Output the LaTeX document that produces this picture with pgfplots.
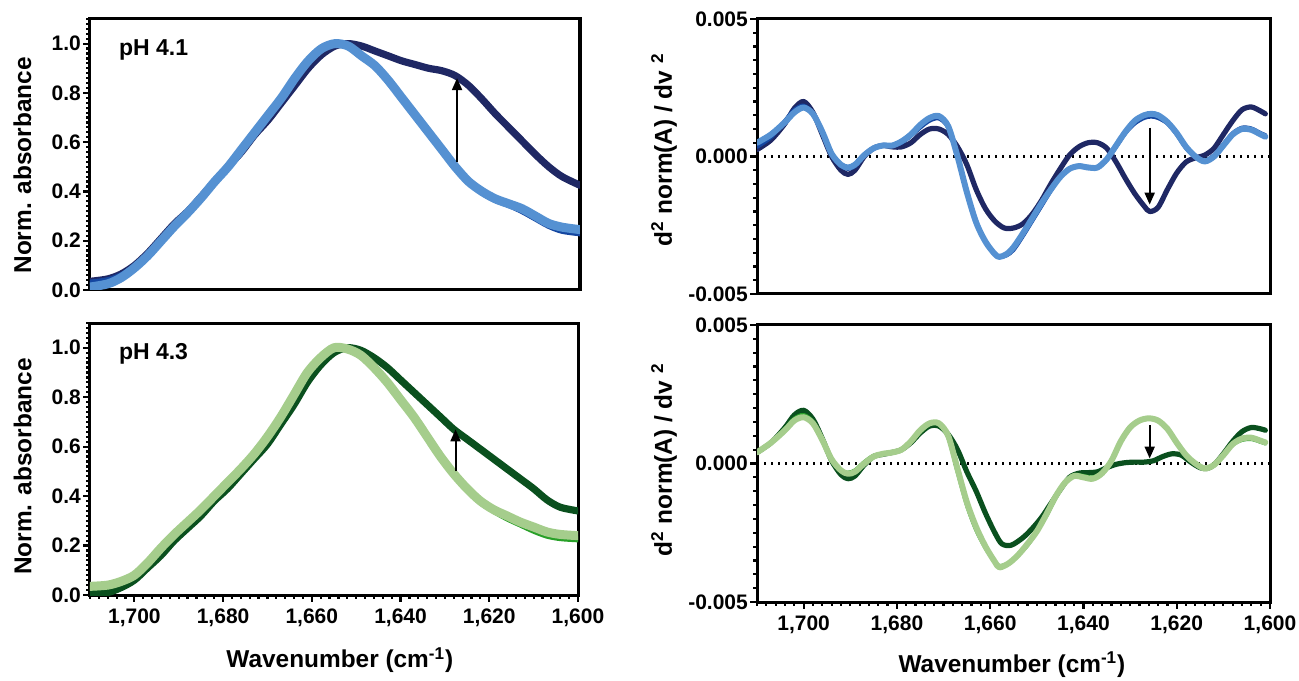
\documentclass[border=0pt]{standalone}
\usepackage{pgfplots}
\pgfplotsset{compat=1.18}
\usepackage{fontspec}
\setmainfont{Liberation Sans}
\usetikzlibrary{arrows.meta}

\definecolor{navy}{RGB}{31,40,100}
\definecolor{midblue}{RGB}{20,70,160}
\definecolor{lightblue}{RGB}{85,145,210}
\definecolor{darkgreen}{RGB}{10,80,30}
\definecolor{midgreen}{RGB}{40,160,40}
\definecolor{lightgreen}{RGB}{165,205,140}

\tikzset{
  zeroline/.style={black, line width=1.1pt, dash pattern=on 1.1pt off 2.4pt},
  shift arrow/.style={black, line width=1pt, -{Triangle[length=6pt,width=5pt]}},
}

\pgfplotsset{
  spec/.style={
    scale only axis, anchor=south west,
    xmin=1600, xmax=1710, x dir=reverse,
    axis line style={line width=1.5pt},
    tick align=outside, tick pos=left,
    every tick/.style={black, line width=1.1pt},
    major tick length=3.4pt, minor tick length=1.8pt,
    /pgf/number format/assume math mode=true,
    ticklabel style={font=\fontsize{10.5}{12}\selectfont\bfseries},
    yticklabel style={inner sep=1pt},
    label style={font=\fontsize{12.2}{14}\selectfont\bfseries},
    every axis plot/.append style={smooth, line join=round, line cap=round},
  },
  withx/.style={
    xtick={1600,1620,1640,1660,1680,1700,1720},
    xticklabels={{1,600},{1,620},{1,640},{1,660},{1,680},{1,700},{}},
    minor x tick num=9,
    xlabel={Wavenumber (cm\textsuperscript{-1})},
  },
  nox/.style={xtick=\empty},
  absy/.style={
    ymin=0, ymax=1.1,
    ytick={0,0.2,0.4,0.6,0.8,1.0,1.2},
    yticklabels={0.0,0.2,0.4,0.6,0.8,1.0,{}},
    minor y tick num=9,
    ylabel={Norm. absorbance},
  },
  dery/.style={
    ymin=-0.005, ymax=0.005, scaled y ticks=false,
    ytick={-0.005,0,0.005},
    yticklabels={-0.005,0.000,0.005},
    minor y tick num=9,
    ylabel={d\textsuperscript{2} norm(A) / dv \textsuperscript{2}},
  },
}

\begin{document}
\begin{tikzpicture}
\path[use as bounding box] (0,0) rectangle (649.5pt,340pt);

% ---- top left: absorbance pH 4.1
\begin{axis}[spec, nox, absy, at={(45pt,195pt)}, width=245pt, height=135.5pt,
  ylabel style={at={(axis description cs:-0.12,0.46)}, anchor=base}]
\addplot[navy, line width=3.6pt] table {
1710 0.035
1706 0.045
1703 0.065
1700 0.10
1697 0.15
1694 0.21
1691 0.27
1688 0.32
1685 0.38
1682 0.44
1679 0.50
1676 0.56
1673 0.63
1670 0.69
1667 0.76
1664 0.83
1661 0.90
1658 0.955
1655 0.99
1652 1.0
1649 0.99
1646 0.97
1643 0.95
1640 0.93
1637 0.915
1634 0.90
1631 0.89
1628 0.87
1625 0.83
1622 0.775
1619 0.715
1616 0.66
1613 0.605
1610 0.55
1607 0.50
1604 0.46
1600 0.425
};
\addplot[midblue, line width=3pt] table {
1710 0.03
1706 0.04
1703 0.06
1700 0.095
1697 0.14
1694 0.20
1691 0.26
1688 0.315
1685 0.375
1682 0.44
1679 0.50
1676 0.57
1673 0.64
1670 0.71
1667 0.78
1664 0.86
1661 0.93
1658 0.98
1655 1.0
1652 0.99
1649 0.95
1646 0.91
1643 0.85
1640 0.78
1637 0.71
1634 0.64
1631 0.57
1628 0.50
1625 0.44
1622 0.395
1619 0.365
1616 0.345
1613 0.32
1610 0.29
1607 0.26
1604 0.24
1600 0.23
};
\addplot[lightblue, line width=4.5pt] table {
1710 0.012
1706 0.025
1703 0.05
1700 0.09
1697 0.14
1694 0.20
1691 0.26
1688 0.315
1685 0.375
1682 0.44
1679 0.50
1676 0.57
1673 0.64
1670 0.71
1667 0.78
1664 0.86
1661 0.93
1658 0.98
1655 1.0
1652 0.99
1649 0.95
1646 0.91
1643 0.85
1640 0.78
1637 0.71
1634 0.64
1631 0.57
1628 0.50
1625 0.44
1622 0.40
1619 0.37
1616 0.35
1613 0.33
1610 0.30
1607 0.27
1604 0.255
1600 0.245
};
\node[anchor=west, font=\fontsize{11.5}{13}\selectfont\bfseries] at (axis description cs:0.045,0.886) {pH 4.1};
\draw[shift arrow] (axis cs:1627.6,0.52) -- (axis cs:1627.6,0.86);
\end{axis}

% ---- bottom left: absorbance pH 4.3
\begin{axis}[spec, withx, absy, at={(45pt,42.5pt)}, width=244pt, height=136pt,
  ylabel style={at={(axis description cs:-0.12,0.472)}, anchor=base},
  xlabel style={at={(axis description cs:0.512,-0.268)}, anchor=base}]
\addplot[darkgreen, line width=3.6pt] table {
1710 0.005
1706 0.01
1703 0.03
1700 0.06
1697 0.11
1694 0.16
1691 0.22
1688 0.27
1685 0.32
1682 0.38
1679 0.43
1676 0.49
1673 0.55
1670 0.61
1667 0.69
1664 0.77
1661 0.86
1658 0.93
1655 0.98
1652 1.0
1649 0.99
1646 0.96
1643 0.92
1640 0.87
1637 0.82
1634 0.77
1631 0.72
1628 0.67
1625 0.63
1622 0.59
1619 0.55
1616 0.51
1613 0.47
1610 0.43
1607 0.385
1604 0.355
1600 0.34
};
\addplot[midgreen, line width=3pt] table {
1710 0.03
1706 0.035
1703 0.05
1700 0.075
1697 0.125
1694 0.185
1691 0.24
1688 0.29
1685 0.34
1682 0.395
1679 0.45
1676 0.505
1673 0.565
1670 0.635
1667 0.715
1664 0.805
1661 0.895
1658 0.96
1655 1.0
1652 0.995
1649 0.97
1646 0.92
1643 0.86
1640 0.79
1637 0.72
1634 0.64
1631 0.56
1628 0.49
1625 0.43
1622 0.375
1619 0.34
1616 0.31
1613 0.285
1610 0.26
1607 0.24
1604 0.23
1600 0.225
};
\addplot[lightgreen, line width=4.5pt] table {
1710 0.035
1706 0.04
1703 0.055
1700 0.08
1697 0.13
1694 0.19
1691 0.245
1688 0.295
1685 0.345
1682 0.40
1679 0.455
1676 0.51
1673 0.57
1670 0.64
1667 0.72
1664 0.81
1661 0.90
1658 0.96
1655 1.0
1652 0.995
1649 0.97
1646 0.92
1643 0.86
1640 0.79
1637 0.72
1634 0.64
1631 0.56
1628 0.49
1625 0.43
1622 0.38
1619 0.345
1616 0.32
1613 0.295
1610 0.275
1607 0.255
1604 0.245
1600 0.24
};
\node[anchor=west, font=\fontsize{11.5}{13}\selectfont\bfseries] at (axis description cs:0.045,0.886) {pH 4.3};
\draw[shift arrow] (axis cs:1627.6,0.50) -- (axis cs:1627.6,0.67);
\end{axis}

% ---- top right: second derivative pH 4.1
\begin{axis}[spec, nox, dery, at={(378.5pt,193pt)}, width=256.5pt, height=137.5pt,
  ylabel style={at={(axis description cs:-0.166,0.524)}, anchor=base}]
\draw[zeroline] (axis cs:1710,0) -- (axis cs:1600,0);
\addplot[navy, line width=2.6pt] table {
1710 0.25e-3
1707 0.6e-3
1704 1.2e-3
1702 1.75e-3
1700 2.0e-3
1698 1.6e-3
1696 0.8e-3
1694 0.0
1692 -0.5e-3
1690.5 -0.65e-3
1689 -0.5e-3
1687 0.0
1685 0.3e-3
1683 0.4e-3
1681 0.35e-3
1679 0.35e-3
1677 0.5e-3
1675 0.8e-3
1673 1.0e-3
1671 1.0e-3
1669 0.8e-3
1667 0.35e-3
1665 -0.3e-3
1663 -1.2e-3
1661 -1.9e-3
1659 -2.35e-3
1657 -2.6e-3
1655 -2.6e-3
1653 -2.45e-3
1651 -2.1e-3
1649 -1.6e-3
1647 -1.0e-3
1645 -0.45e-3
1643 0.05e-3
1641 0.35e-3
1639 0.5e-3
1637 0.5e-3
1635 0.3e-3
1633 -0.2e-3
1631 -0.8e-3
1629 -1.35e-3
1627 -1.8e-3
1625.8 -2.0e-3
1624 -1.85e-3
1622 -1.2e-3
1620 -0.6e-3
1618 -0.2e-3
1616 -0.05e-3
1614 0.05e-3
1612 0.3e-3
1610 0.8e-3
1608 1.3e-3
1606 1.7e-3
1604 1.8e-3
1602 1.65e-3
1601 1.55e-3
};
\addplot[midblue, line width=2pt] table {
1710 0.35e-3
1707 0.7e-3
1704 1.3e-3
1702 1.7e-3
1700 1.85e-3
1698 1.55e-3
1696 0.85e-3
1694 0.05e-3
1692 -0.35e-3
1690.5 -0.45e-3
1689 -0.35e-3
1687 0.05e-3
1685 0.3e-3
1683 0.4e-3
1681 0.38e-3
1679 0.5e-3
1677 0.75e-3
1675 1.05e-3
1673 1.3e-3
1671 1.38e-3
1669 1.05e-3
1667 0.0
1665 -1.3e-3
1663 -2.4e-3
1661 -3.1e-3
1659 -3.55e-3
1658 -3.65e-3
1656.5 -3.6e-3
1655 -3.4e-3
1653 -2.9e-3
1651 -2.35e-3
1649 -1.8e-3
1647 -1.25e-3
1645 -0.75e-3
1643 -0.45e-3
1641 -0.35e-3
1639 -0.38e-3
1637 -0.38e-3
1635 -0.1e-3
1633 0.35e-3
1631 0.85e-3
1629 1.2e-3
1627 1.4e-3
1625.5 1.45e-3
1624 1.4e-3
1622 1.2e-3
1620 0.8e-3
1618 0.3e-3
1616 0.0
1614 -0.15e-3
1612 0.05e-3
1610 0.45e-3
1608 0.85e-3
1606 1.05e-3
1604 1.02e-3
1602 0.85e-3
1601 0.78e-3
};
\addplot[lightblue, line width=3pt] table {
1710 0.5e-3
1707 0.8e-3
1704 1.25e-3
1702 1.6e-3
1700 1.78e-3
1698 1.55e-3
1696 0.9e-3
1694 0.1e-3
1692 -0.3e-3
1690.5 -0.4e-3
1689 -0.3e-3
1687 0.05e-3
1685 0.3e-3
1683 0.4e-3
1681 0.4e-3
1679 0.55e-3
1677 0.8e-3
1675 1.15e-3
1673 1.4e-3
1671 1.47e-3
1669 1.1e-3
1667 0.0
1665 -1.3e-3
1663 -2.4e-3
1661 -3.1e-3
1659 -3.55e-3
1658 -3.65e-3
1656.5 -3.55e-3
1655 -3.3e-3
1653 -2.8e-3
1651 -2.25e-3
1649 -1.7e-3
1647 -1.2e-3
1645 -0.75e-3
1643 -0.45e-3
1641 -0.35e-3
1639 -0.4e-3
1637 -0.4e-3
1635 -0.1e-3
1633 0.4e-3
1631 0.9e-3
1629 1.3e-3
1627 1.5e-3
1625.5 1.55e-3
1624 1.5e-3
1622 1.25e-3
1620 0.85e-3
1618 0.35e-3
1616 0.0
1614 -0.18e-3
1612 0.0
1610 0.4e-3
1608 0.8e-3
1606 1.0e-3
1604 0.97e-3
1602 0.8e-3
1601 0.72e-3
};
\draw[shift arrow] (axis cs:1625.8,1.05e-3) -- (axis cs:1625.8,-1.75e-3);
\end{axis}

% ---- bottom right: second derivative pH 4.3
\begin{axis}[spec, withx, dery, at={(378.5pt,39pt)}, width=256.5pt, height=138.5pt,
  ylabel style={at={(axis description cs:-0.166,0.513)}, anchor=base},
  xlabel style={at={(axis description cs:0.497,-0.253)}, anchor=base}]
\draw[zeroline] (axis cs:1710,0) -- (axis cs:1600,0);
\addplot[darkgreen, line width=2.6pt] table {
1710 0.4e-3
1707 0.75e-3
1704 1.3e-3
1702 1.75e-3
1700 1.92e-3
1698 1.6e-3
1696 0.9e-3
1694 0.1e-3
1692 -0.4e-3
1690.5 -0.55e-3
1689 -0.45e-3
1687 -0.05e-3
1685 0.25e-3
1683 0.33e-3
1681 0.4e-3
1679 0.5e-3
1677 0.75e-3
1675 1.1e-3
1673 1.35e-3
1671 1.35e-3
1669 1.05e-3
1667 0.5e-3
1665 -0.3e-3
1663 -1.0e-3
1661 -1.8e-3
1659 -2.5e-3
1657.5 -2.9e-3
1655.5 -2.95e-3
1653 -2.68e-3
1651 -2.35e-3
1649 -1.95e-3
1647 -1.45e-3
1645 -0.95e-3
1643 -0.5e-3
1641 -0.35e-3
1639 -0.33e-3
1637 -0.3e-3
1635 -0.15e-3
1633 -0.03e-3
1631 0.03e-3
1629 0.05e-3
1627 0.05e-3
1625 0.1e-3
1623 0.25e-3
1621 0.35e-3
1619 0.3e-3
1617 0.05e-3
1615 -0.15e-3
1613.5 -0.18e-3
1612 -0.05e-3
1610 0.35e-3
1608 0.8e-3
1606 1.15e-3
1604 1.3e-3
1602 1.25e-3
1601 1.2e-3
};
\addplot[midgreen, line width=2pt] table {
1710 0.4e-3
1707 0.75e-3
1704 1.25e-3
1702 1.62e-3
1700 1.75e-3
1698 1.5e-3
1696 0.85e-3
1694 0.15e-3
1692 -0.25e-3
1690.5 -0.33e-3
1689 -0.25e-3
1687 0.05e-3
1685 0.28e-3
1683 0.35e-3
1681 0.4e-3
1679 0.5e-3
1677 0.78e-3
1675 1.15e-3
1673 1.42e-3
1671 1.42e-3
1669 0.95e-3
1667 -0.3e-3
1665 -1.5e-3
1663 -2.4e-3
1661 -3.05e-3
1659 -3.55e-3
1658 -3.7e-3
1656 -3.6e-3
1654 -3.3e-3
1652 -2.95e-3
1650 -2.45e-3
1648 -1.9e-3
1646 -1.25e-3
1644 -0.7e-3
1642 -0.42e-3
1640 -0.45e-3
1638 -0.5e-3
1636 -0.32e-3
1634 0.1e-3
1632 0.8e-3
1630 1.3e-3
1628 1.55e-3
1626 1.62e-3
1624 1.55e-3
1622 1.25e-3
1620 0.75e-3
1618 0.3e-3
1616 0.0
1614 -0.18e-3
1612 -0.05e-3
1610 0.3e-3
1608 0.68e-3
1606 0.85e-3
1604 0.88e-3
1602 0.78e-3
1601 0.72e-3
};
\addplot[lightgreen, line width=3pt] table {
1710 0.4e-3
1707 0.75e-3
1704 1.2e-3
1702 1.55e-3
1700 1.67e-3
1698 1.45e-3
1696 0.85e-3
1694 0.15e-3
1692 -0.25e-3
1690.5 -0.37e-3
1689 -0.3e-3
1687 0.0
1685 0.25e-3
1683 0.35e-3
1681 0.4e-3
1679 0.5e-3
1677 0.8e-3
1675 1.2e-3
1673 1.45e-3
1671 1.45e-3
1669 1.0e-3
1667 -0.2e-3
1665 -1.4e-3
1663 -2.3e-3
1661 -3.0e-3
1659 -3.55e-3
1658 -3.75e-3
1656 -3.6e-3
1654 -3.3e-3
1652 -2.9e-3
1650 -2.45e-3
1648 -1.85e-3
1646 -1.2e-3
1644 -0.7e-3
1642 -0.45e-3
1640 -0.5e-3
1638 -0.55e-3
1636 -0.35e-3
1634 0.1e-3
1632 0.8e-3
1630 1.3e-3
1628 1.55e-3
1626 1.63e-3
1624 1.55e-3
1622 1.25e-3
1620 0.75e-3
1618 0.3e-3
1616 0.0
1614 -0.18e-3
1612 -0.05e-3
1610 0.3e-3
1608 0.7e-3
1606 0.9e-3
1604 0.93e-3
1602 0.82e-3
1601 0.76e-3
};
\draw[shift arrow] (axis cs:1625.8,1.38e-3) -- (axis cs:1625.8,0.18e-3);
\end{axis}
\end{tikzpicture}
\end{document}
